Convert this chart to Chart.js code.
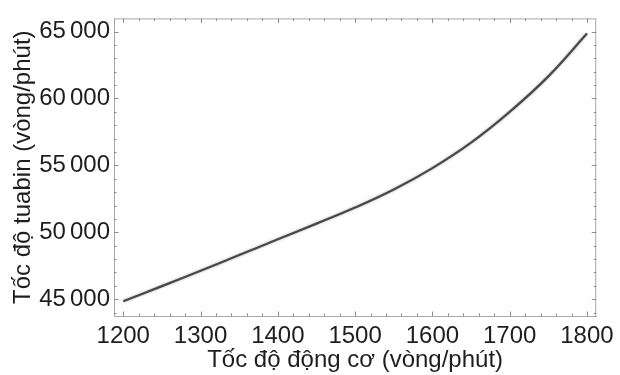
<!DOCTYPE html>
<html>
<head>
<meta charset="utf-8">
<script src="https://cdn.jsdelivr.net/npm/chart.js@4"></script>
<style>
  html, body { margin: 0; padding: 0; background: #fff; }
  canvas { display: block; }
</style>
</head>
<body>
<canvas id="speed-chart" width="620" height="375"></canvas>
<script>
// Engine speed (rpm) vs turbine speed (rpm)
const engineSpeed = [1200, 1250, 1300, 1350, 1400, 1450, 1500, 1550, 1600, 1650, 1700, 1750, 1800];
const turbineSpeed = [44850, 45980, 47130, 48300, 49480, 50650, 51850, 53200, 54800, 56700, 59000, 61650, 64850];

const xTicks = [1200, 1300, 1400, 1500, 1600, 1700, 1800];
const yTicks = [45000, 50000, 55000, 60000, 65000];

const FRAME_COLOR = '#a8a8a8';
const TEXT_COLOR = '#1e1e1e';
const FONT = 'Liberation Sans, Arial, Helvetica, sans-serif';

// "65000" -> "65 000" with a narrow gap between digit groups
function groupDigits(v) {
    const s = String(v);
    return s.length > 4 ? s.slice(0, s.length - 3) + '\u2006' + s.slice(-3) : s;
}

// Inward tick marks on all four sides of the frame, Mathematica style
const frameTicks = {
    id: 'frameTicks',
    afterDraw(chart) {
        const { ctx, chartArea: a, scales: { x, y } } = chart;
        ctx.save();
        ctx.strokeStyle = FRAME_COLOR;
        ctx.lineWidth = 1;
        // top and right frame lines
        ctx.beginPath();
        ctx.moveTo(a.left, a.top + 0.5);
        ctx.lineTo(a.right, a.top + 0.5);
        ctx.moveTo(a.right - 0.5, a.top);
        ctx.lineTo(a.right - 0.5, a.bottom);
        ctx.stroke();

        ctx.strokeStyle = '#8c8c8c';
        ctx.beginPath();
        for (let v = 1200; v <= 1800; v += 20) {
            const len = v % 100 === 0 ? 4.5 : 2.5;
            const px = Math.round(x.getPixelForValue(v)) + 0.5;
            ctx.moveTo(px, a.bottom);
            ctx.lineTo(px, a.bottom - len);
            ctx.moveTo(px, a.top);
            ctx.lineTo(px, a.top + len);
        }
        for (let v = 44000; v <= 65000; v += 1000) {
            const len = v % 5000 === 0 ? 4.5 : 2.5;
            const py = Math.round(y.getPixelForValue(v)) + 0.5;
            ctx.moveTo(a.left, py);
            ctx.lineTo(a.left + len, py);
            ctx.moveTo(a.right, py);
            ctx.lineTo(a.right - len, py);
        }
        ctx.stroke();
        ctx.restore();
    }
};

// soft halo around the curve
const lineHalo = {
    id: 'lineHalo',
    beforeDatasetDraw(chart) {
        chart.ctx.save();
        chart.ctx.shadowColor = 'rgba(0,0,0,0.35)';
        chart.ctx.shadowBlur = 2.5;
    },
    afterDatasetDraw(chart) {
        chart.ctx.restore();
    }
};

const ctx = document.getElementById('speed-chart').getContext('2d');
new Chart(ctx, {
    type: 'line',
    data: {
        datasets: [{
            data: engineSpeed.map((v, i) => ({ x: v, y: turbineSpeed[i] })),
            borderColor: '#484848',
            borderWidth: 2.2,
            pointRadius: 0,
            tension: 0.4,
            fill: false
        }]
    },
    options: {
        responsive: false,
        animation: false,
        layout: { padding: { top: 14, right: 18, left: 0, bottom: 0 } },
        plugins: { legend: { display: false }, tooltip: { enabled: false } },
        scales: {
            x: {
                type: 'linear',
                min: 1188,
                max: 1812,
                afterBuildTicks: s => { s.ticks = xTicks.map(v => ({ value: v })); },
                afterFit: s => { s.height = 59; },
                grid: { display: true, drawOnChartArea: false, drawTicks: false },
                border: { display: true, color: FRAME_COLOR, width: 1 },
                ticks: {
                    padding: 6,
                    color: TEXT_COLOR,
                    font: { family: FONT, size: 24 },
                    maxRotation: 0,
                    callback: v => String(v)
                },
                title: {
                    display: true,
                    text: 'Tốc độ động cơ (vòng/phút)',
                    color: TEXT_COLOR,
                    font: { family: FONT, size: 24 },
                    padding: { top: 0, bottom: 0 }
                }
            },
            y: {
                type: 'linear',
                min: 43750,
                max: 65980,
                afterBuildTicks: s => { s.ticks = yTicks.map(v => ({ value: v })); },
                afterFit: s => { s.width = 114; },
                grid: { display: true, drawOnChartArea: false, drawTicks: false },
                border: { display: true, color: FRAME_COLOR, width: 1 },
                ticks: {
                    padding: 4,
                    color: TEXT_COLOR,
                    font: { family: FONT, size: 24 },
                    callback: v => groupDigits(v)
                },
                title: {
                    display: true,
                    text: 'Tốc độ tuabin (vòng/phút)',
                    color: TEXT_COLOR,
                    font: { family: FONT, size: 24 },
                    padding: { top: 9, bottom: 0 }
                }
            }
        }
    },
    plugins: [frameTicks, lineHalo]
});
</script>
</body>
</html>
